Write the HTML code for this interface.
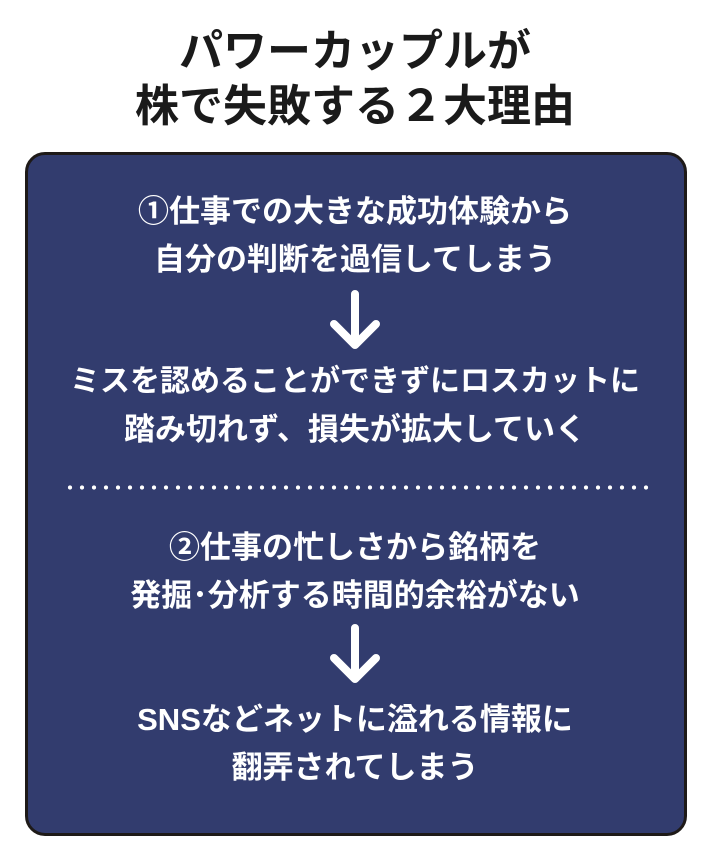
<!DOCTYPE html>
<html><head><meta charset="utf-8"><style>
body{margin:0;width:710px;height:858px;background:#fff;position:relative;overflow:hidden;font-family:"Liberation Sans","Noto Sans CJK JP",sans-serif;font-weight:bold}
.t{position:absolute;left:0;width:710px;text-align:center;color:#1a1a1a;font-size:44px;line-height:54px}
.box{position:absolute;left:25px;top:152px;width:656px;height:678px;background:#323c6e;border:3px solid #1e1a18;border-radius:20px}
.l{position:absolute;left:0;width:710px;text-align:center;color:#fff;font-size:31px;line-height:48px;white-space:nowrap}
.dots{position:absolute;left:64px;top:485px;width:590px;height:5px;background:radial-gradient(circle,#fff 1.9px,transparent 2.3px) 0 0/12px 5px repeat-x}
svg{position:absolute}
</style></head><body>
<div class="t" style="top:25px">パワーカップルが</div>
<div class="t" style="top:80px">株で失敗する２大理由</div>
<div class="box"></div>
<div class="l" style="top:188px">①仕事での大きな成功体験から</div>
<div class="l" style="top:236px">自分の判断を過信してしまう</div>
<svg style="left:326px;top:290px" width="58" height="62"><path d="M29 4V54M8 34L29 55L50 34" stroke="#fff" stroke-width="8" fill="none" stroke-linecap="round" stroke-linejoin="round"/></svg>
<div class="l" style="top:358px;font-size:30px">ミスを認めることができずにロスカットに</div>
<div class="l" style="top:406px">踏み切れず、損失が拡大していく</div>
<div class="dots"></div>
<div class="l" style="top:524px">②仕事の忙しさから銘柄を</div>
<div class="l" style="top:572px">発掘･分析する時間的余裕がない</div>
<svg style="left:326px;top:624px" width="58" height="62"><path d="M29 4V54M8 34L29 55L50 34" stroke="#fff" stroke-width="8" fill="none" stroke-linecap="round" stroke-linejoin="round"/></svg>
<div class="l" style="top:696px">SNSなどネットに溢れる情報に</div>
<div class="l" style="top:744px">翻弄されてしまう</div>
</body></html>
